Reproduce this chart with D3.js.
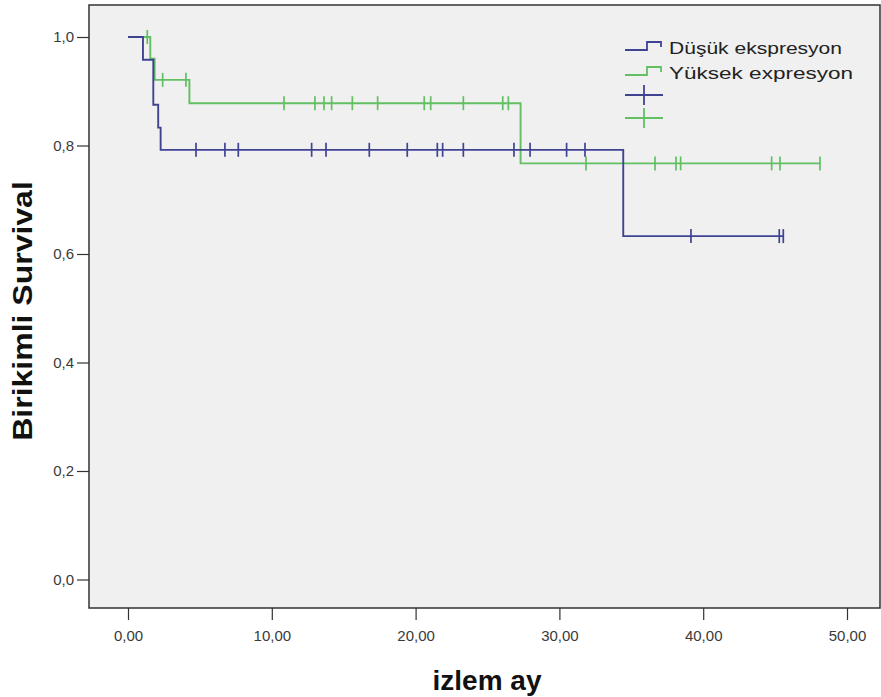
<!DOCTYPE html>
<html>
<head>
<meta charset="utf-8">
<script src="https://cdn.jsdelivr.net/npm/d3@7"></script>
<style>
  body { margin: 0; background: #fff; }
  svg text { font-family: "Liberation Sans", Arial, sans-serif; }
</style>
</head>
<body>
<div id="chart"></div>
<script>
// Kaplan-Meier steps
const lowTimes = [0, 1.04, 1.76, 2.1, 2.27, 34.44];
const lowSurv = [1, 0.958, 0.875, 0.833, 0.792, 0.633];
const lowEnd = 45.6;
const lowCensor = [4.73, 6.74, 7.67, 12.77, 13.77, 16.78, 19.42, 21.51, 21.88, 23.32, 26.84, 27.96, 30.5, 31.78, 39.15, 45.29, 45.57];

const highTimes = [0, 1.55, 1.85, 4.27, 27.3];
const highSurv = [1, 0.96, 0.921, 0.878, 0.767];
const highEnd = 48.12;
const highCensor = [1.34, 2.41, 4.03, 10.85, 13.0, 13.63, 14.16, 15.6, 17.36, 20.6, 21.05, 23.32, 26.06, 26.45, 31.85, 36.65, 38.11, 38.43, 44.76, 45.34, 48.12];

const xTicks = [0, 10, 20, 30, 40, 50];
const yTicks = [0, 0.2, 0.4, 0.6, 0.8, 1.0];
const legendNames = ["Düşük ekspresyon", "Yüksek expresyon"];

const blue = "#3f4392";
const green = "#62bf62";

const width = 881, height = 697;
const box = { left: 89, top: 5, right: 880, bottom: 608 };

const svg = d3.select("#chart").append("svg")
  .attr("width", width).attr("height", height);

const x = d3.scaleLinear().domain([0, 50]).range([128, 847]);
const y = d3.scaleLinear().domain([0, 1]).range([579.5, 37]);

svg.append("rect")
  .attr("x", box.left).attr("y", box.top)
  .attr("width", box.right - box.left).attr("height", box.bottom - box.top)
  .attr("fill", "#f0f0f0").attr("stroke", "#333").attr("stroke-width", 1.5);

// axes
const xAxis = d3.axisBottom(x).tickValues(xTicks).tickSize(12).tickPadding(10)
  .tickFormat(d => d3.format(".2f")(d).replace(".", ","));
svg.append("g").attr("transform", `translate(0,${box.bottom})`).call(xAxis)
  .call(g => g.select(".domain").remove());

const yAxis = d3.axisLeft(y).tickValues(yTicks).tickSize(12).tickPadding(3)
  .tickFormat(d => d3.format(".1f")(d).replace(".", ","));
svg.append("g").attr("transform", `translate(${box.left},0)`).call(yAxis)
  .call(g => g.select(".domain").remove());

svg.selectAll(".tick line").attr("stroke", "#333").attr("stroke-width", 1.2);
svg.selectAll(".tick text").attr("fill", "#3a3a3a").style("font-size", "15px");

// step curves
function stepPoints(times, surv, end) {
  const pts = times.map((t, i) => [t, surv[i]]);
  pts.push([end, surv[surv.length - 1]]);
  return pts;
}
function survAt(times, surv, t) {
  let s = surv[0];
  times.forEach((tt, i) => { if (tt <= t) s = surv[i]; });
  return s;
}
const line = d3.line().x(d => x(d[0])).y(d => y(d[1])).curve(d3.curveStepAfter);

const series = [
  { times: lowTimes, surv: lowSurv, end: lowEnd, censor: lowCensor, color: blue },
  { times: highTimes, surv: highSurv, end: highEnd, censor: highCensor, color: green }
];

series.slice().reverse().forEach(s => {
  svg.append("path")
    .datum(stepPoints(s.times, s.surv, s.end))
    .attr("d", line)
    .attr("fill", "none")
    .attr("stroke", s.color)
    .attr("stroke-width", 1.9);
  svg.append("g").selectAll("line")
    .data(s.censor)
    .join("line")
    .attr("x1", d => x(d)).attr("x2", d => x(d))
    .attr("y1", d => y(survAt(s.times, s.surv, d)) - 7)
    .attr("y2", d => y(survAt(s.times, s.surv, d)) + 7)
    .attr("stroke", s.color)
    .attr("stroke-width", 1.7);
});

// legend
const lg = svg.append("g").attr("transform", "translate(625,0)");
legendNames.forEach((name, i) => {
  const cy = 48 + i * 25;
  const c = series[i].color;
  lg.append("path")
    .attr("d", `M0,${cy + 2}H22V${cy - 6}H36V${cy - 1}`)
    .attr("fill", "none").attr("stroke", c).attr("stroke-width", 1.8);
  lg.append("text")
    .attr("x", 44).attr("y", cy + 6)
    .attr("fill", "#222").style("font-size", "17px")
    .attr("textLength", i === 0 ? 173 : 184)
    .attr("lengthAdjust", "spacingAndGlyphs")
    .text(name);
});
series.forEach((s, i) => {
  const cy = 95 + i * 23;
  lg.append("line").attr("x1", 0).attr("x2", 38).attr("y1", cy).attr("y2", cy)
    .attr("stroke", s.color).attr("stroke-width", 1.8);
  lg.append("line").attr("x1", 19).attr("x2", 19).attr("y1", cy - 10).attr("y2", cy + 10)
    .attr("stroke", s.color).attr("stroke-width", 1.8);
});

// axis titles
svg.append("text")
  .attr("x", 487).attr("y", 690)
  .attr("text-anchor", "middle")
  .attr("fill", "#111")
  .style("font-size", "28px").style("font-weight", "bold")
  .text("izlem ay");

svg.append("text")
  .attr("transform", "translate(32,311) scale(0.85,1) rotate(-90)")
  .attr("text-anchor", "middle")
  .attr("fill", "#111")
  .style("font-size", "32px").style("font-weight", "bold")
  .text("Birikimli Survival");
</script>
</body>
</html>
